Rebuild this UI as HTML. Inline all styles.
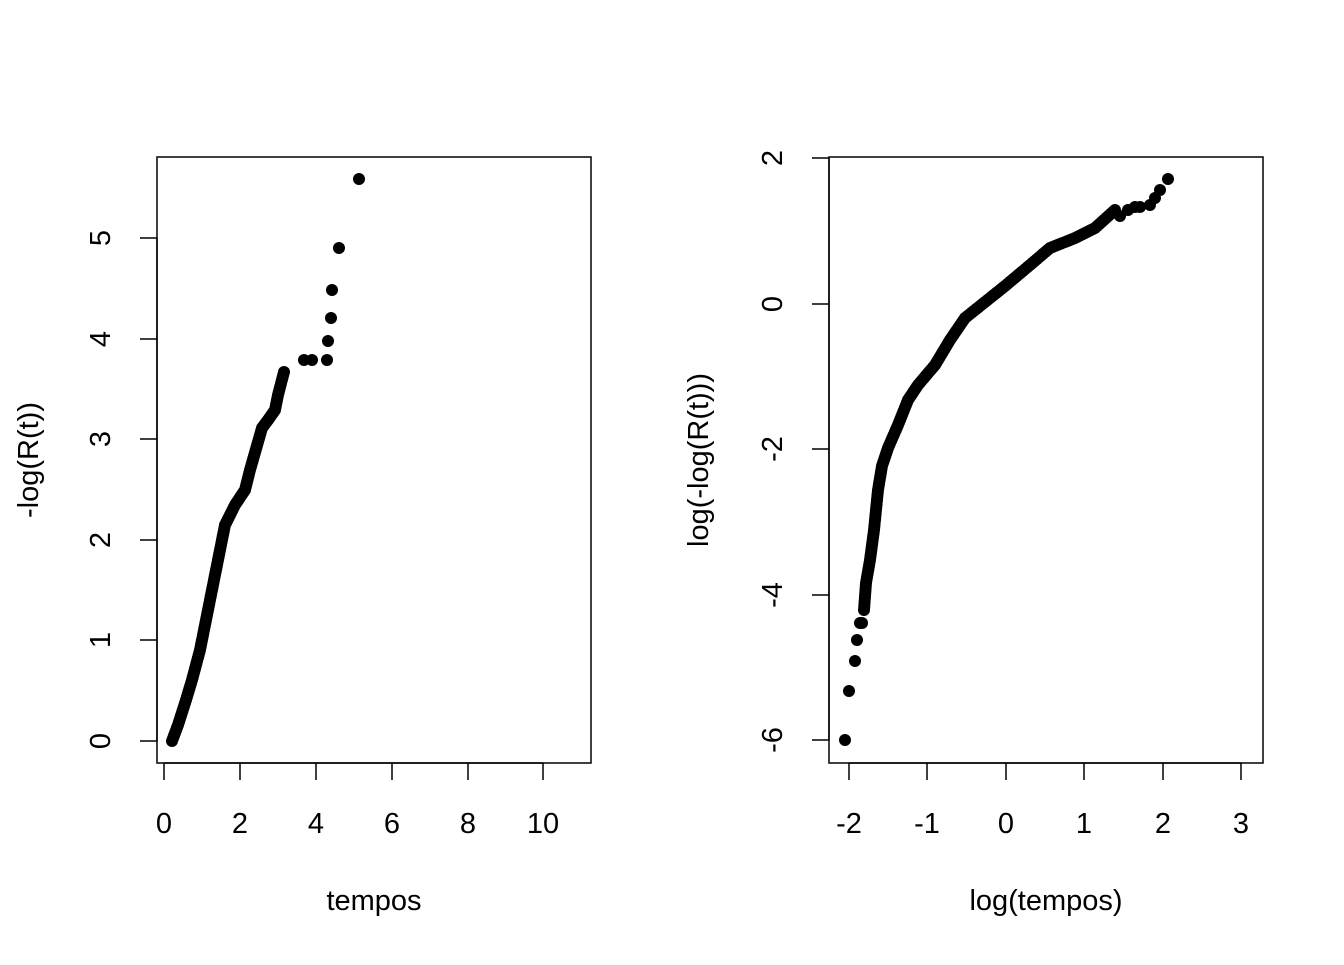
<!DOCTYPE html>
<html><head><meta charset="utf-8"><style>
body{margin:0;background:#fff}
svg text{font-family:"Liberation Sans",Arial,sans-serif;font-size:29px;fill:#000}
</style></head><body>
<svg id="s" width="1344" height="960" xmlns="http://www.w3.org/2000/svg">
<rect x="157" y="157" width="434" height="606" fill="none" stroke="#000" stroke-width="1.5"/>
<rect x="829" y="157" width="434" height="606" fill="none" stroke="#000" stroke-width="1.5"/>
<g stroke="#000" stroke-width="1.5">
<line x1="164" y1="763" x2="543" y2="763"/>
<line x1="164" y1="763" x2="164" y2="780"/><line x1="240" y1="763" x2="240" y2="780"/><line x1="316" y1="763" x2="316" y2="780"/><line x1="392" y1="763" x2="392" y2="780"/><line x1="468" y1="763" x2="468" y2="780"/><line x1="543" y1="763" x2="543" y2="780"/>
<line x1="157" y1="238" x2="157" y2="741"/>
<line x1="140" y1="741" x2="157" y2="741"/><line x1="140" y1="640" x2="157" y2="640"/><line x1="140" y1="540" x2="157" y2="540"/><line x1="140" y1="439" x2="157" y2="439"/><line x1="140" y1="339" x2="157" y2="339"/><line x1="140" y1="238" x2="157" y2="238"/>
<line x1="849" y1="763" x2="1241" y2="763"/>
<line x1="849" y1="763" x2="849" y2="780"/><line x1="927" y1="763" x2="927" y2="780"/><line x1="1006" y1="763" x2="1006" y2="780"/><line x1="1084" y1="763" x2="1084" y2="780"/><line x1="1163" y1="763" x2="1163" y2="780"/><line x1="1241" y1="763" x2="1241" y2="780"/>
<line x1="829" y1="158" x2="829" y2="740"/>
<line x1="812" y1="158" x2="829" y2="158"/><line x1="812" y1="304" x2="829" y2="304"/><line x1="812" y1="449" x2="829" y2="449"/><line x1="812" y1="595" x2="829" y2="595"/><line x1="812" y1="740" x2="829" y2="740"/>
</g>
<g text-anchor="middle">
<text x="164" y="833">0</text><text x="240" y="833">2</text><text x="316" y="833">4</text><text x="392" y="833">6</text><text x="468" y="833">8</text><text x="543" y="833">10</text>
<text x="849" y="833">-2</text><text x="927" y="833">-1</text><text x="1006" y="833">0</text><text x="1084" y="833">1</text><text x="1163" y="833">2</text><text x="1241" y="833">3</text>
<text x="374" y="910">tempos</text><text x="1046" y="910">log(tempos)</text>
<text transform="translate(110,741) rotate(-90)">0</text><text transform="translate(110,640) rotate(-90)">1</text><text transform="translate(110,540) rotate(-90)">2</text><text transform="translate(110,439) rotate(-90)">3</text><text transform="translate(110,339) rotate(-90)">4</text><text transform="translate(110,238) rotate(-90)">5</text>
<text transform="translate(782,158) rotate(-90)">2</text><text transform="translate(782,304) rotate(-90)">0</text><text transform="translate(782,449) rotate(-90)">-2</text><text transform="translate(782,595) rotate(-90)">-4</text><text transform="translate(782,740) rotate(-90)">-6</text>
<text transform="translate(38,460) rotate(-90)">-log(R(t))</text>
<text transform="translate(708,460) rotate(-90)">log(-log(R(t)))</text>
</g>
<g id="pts" fill="#000"></g>
</svg>
<script>
var g=document.getElementById('pts'),ns='http://www.w3.org/2000/svg';
function c(x,y){var e=document.createElementNS(ns,'circle');e.setAttribute('cx',x);e.setAttribute('cy',y);e.setAttribute('r',6);g.appendChild(e);}
function path(p){for(var i=0;i<p.length-1;i++){var a=p[i],b=p[i+1],d=Math.hypot(b[0]-a[0],b[1]-a[1]),n=Math.max(1,Math.ceil(d/3));for(var k=0;k<n;k++){c(a[0]+(b[0]-a[0])*k/n,a[1]+(b[1]-a[1])*k/n);}}c(p[p.length-1][0],p[p.length-1][1]);}
path([[172,741],[178,725],[186,700],[192,680],[200,650],[210,600],[218,560],[225,525],[235,505],[245,490],[250,470],[262,428],[268,420],[275,410],[278,395],[284,372]]);
[[304,360],[312,360],[327,360],[328,341],[331,318],[332,290],[339,248],[359,179]].forEach(function(p){c(p[0],p[1]);});
path([[864,610],[866,583],[870,560],[874,530],[878,490],[882,466],[888,448],[898,425],[908,400],[918,385],[935,365],[950,340],[965,318],[985,302],[1005,286],[1030,265],[1050,248],[1075,238],[1095,228],[1115,210]]);
[[845,740],[849,691],[855,661],[857,640],[860,623],[862,623],[1120,216],[1128,210],[1135,207],[1140,207],[1150,205],[1155,198],[1160,190],[1168,179]].forEach(function(p){c(p[0],p[1]);});
</script>
</body></html>
